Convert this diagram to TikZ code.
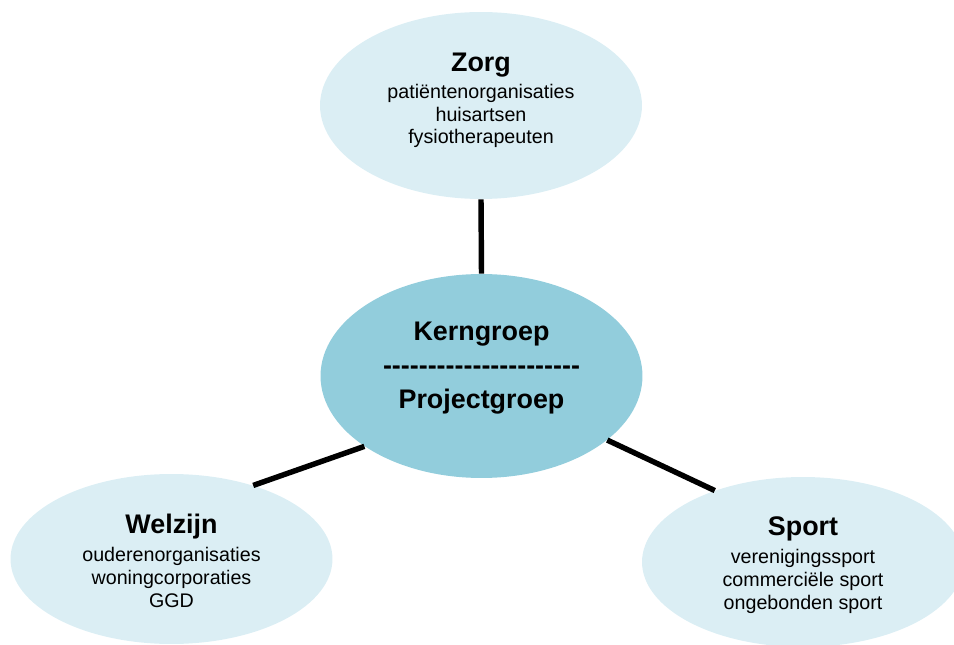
\documentclass[tikz,border=0pt]{standalone}
\usepackage{fontspec}
\newfontfamily\arialfont{Liberation Sans}
\usetikzlibrary{shapes.geometric}
\definecolor{lichtblauw}{HTML}{DBEEF4}
\definecolor{kernblauw}{HTML}{92CDDC}
\tikzset{
  partner/.style={ellipse, fill=lichtblauw, inner sep=0pt, minimum width=6.44cm, minimum height=3.4cm},
  titel/.style={font=\arialfont\bfseries\fontsize{15.3}{19.3}\selectfont, align=center, anchor=base, inner sep=0pt},
  leden/.style={font=\arialfont\fontsize{11.2}{13}\selectfont, align=center, anchor=base, inner sep=0pt},
  verbinding/.style={line width=3.1pt}
}
\begin{document}
\begin{tikzpicture}[x=0.02cm, y=-0.02cm]
    \useasboundingbox (0,0) rectangle (954,645);

    % Kerngroep in het midden (basislijn van de laatste regel)
    \node[partner, fill=kernblauw, minimum height=4.08cm] (kern) at (481.5,376) {};
    \node[titel] (kerntekst) at (481.5,408) {Kerngroep\\----------------------\\Projectgroep};

    % Zorg bovenaan
    \node[partner, minimum height=3.74cm] (zorg) at (481,105.5) {};
    \node[titel] (zorgtitel) at (481,72) {Zorg};
    \node[leden] (zorgleden) at (481,144) {patiëntenorganisaties\\huisartsen\\fysiotherapeuten};

    % Welzijn linksonder
    \node[partner] (welzijn) at (171.5,559) {};
    \node[titel] (welzijntitel) at (171.5,533) {Welzijn};
    \node[leden] (welzijnleden) at (171.5,607) {ouderenorganisaties\\woningcorporaties\\GGD};

    % Sport rechtsonder
    \node[partner] (sport) at (803,562) {};
    \node[titel] (sporttitel) at (803,535) {Sport};
    \node[leden] (sportleden) at (803,609) {verenigingssport\\commerciële sport\\ongebonden sport};

    % Verbindingen met de kerngroep
    \draw[verbinding] (zorg.south) -- (kern.north);
    \draw[verbinding] (welzijn.42) -- (kern.211.7);
    \draw[verbinding] (sport.141.5) -- (kern.333.3);

  \end{tikzpicture}
\end{document}
